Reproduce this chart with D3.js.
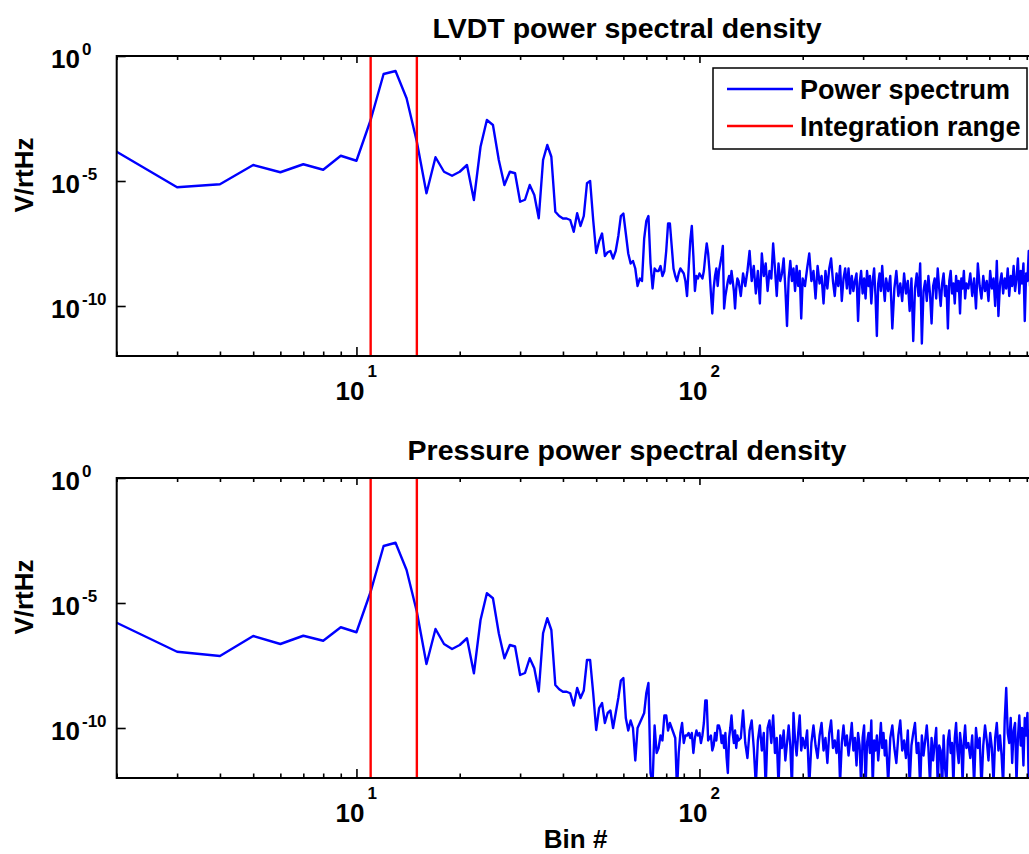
<!DOCTYPE html>
<html>
<head>
<meta charset="utf-8">
<script src="https://cdn.jsdelivr.net/npm/d3@7"></script>
<style>
  body { margin: 0; background: #fff; }
  text { font-family: "Liberation Sans", Arial, sans-serif; font-weight: bold; fill: #000; }
</style>
</head>
<body>
<div id="chart"></div>
<script>
// Power spectral densities (values are log10 of V/rtHz)

// Bin numbers: every bin up to 130, then sampled
var bins = [2,3,4,5,6,7,8,9,10,
  11,12,13,14,15,16,17,18,19,20,21,22,23,24,25,26,27,28,29,30,
  31,32,33,34,35,36,37,38,39,40,41,42,43,44,45,46,47,48,49,50,
  51,52,53,54,55,56,57,58,59,60,61,62,63,64,65,66,67,68,69,70,
  71,72,73,74,75,76,77,78,79,80,81,82,83,84,85,86,87,88,89,90,
  91,92,93,94,95,96,97,98,99,100,101,102,103,104,105,106,107,108,109,110,
  111,112,113,114,115,116,117,118,119,120,121,122,123,124,125,126,127,128,129,130,
  132,134,136,138,140,142,144,146,148,150,152,154,156,158,160,162,164,166,168,170,
  172,174,176,178,180,182,184,186,188,190,192,194,196,198,200,
  203,206,209,212,215,218,221,224,227,230,233,236,239,242,245,248,251,254,257,260,
  263,266,269,272,275,278,281,284,287,290,293,296,299,302,305,308,311,314,317,320,
  323,326,329,332,335,338,341,344,347,350,
  355,360,365,370,375,380,385,390,395,400,405,410,415,420,425,430,435,440,445,450,
  455,460,465,470,475,480,485,490,495,500,505,510,515,520,525,530,535,540,545,550,
  555,560,565,570,575,580,585,590,595,600,
  608,616,624,632,640,648,656,664,672,680,688,696,704,712,720,728,736,744,752,760,
  768,776,784,792,800,808,816,824,832,840,848,856,864,872,880,888,896,904,912,920,
  928,936];

// LVDT spectrum, log10 values
var lvdtExp = [-3.83,-5.25,-5.13,-4.36,-4.65,-4.33,-4.55,-3.99,-4.19,
  -2.56,-0.72,-0.60,-1.69,-3.43,-5.49,-4.05,-4.63,-4.79,-4.63,
  -4.36,-5.76,-3.63,-2.56,-2.76,-4.16,-5.16,-4.63,-4.69,-5.83,
  -5.75,-5.16,-5.56,-6.49,-4.16,-3.56,-4.03,-6.23,-6.4,-6.5,
  -6.5,-6.56,-7.03,-6.29,-6.8,-6.4,-5.09,-5.0,-6.56,-7.88,
  -7.4,-7.1,-8.0,-7.85,-7.8,-8.1,-7.8,-7.2,-6.4,-6.3,
  -7.1,-7.9,-8.3,-8.2,-8.5,-9.2,-8.9,-9.0,-7.3,-6.6,
  -6.4,-8.3,-9.3,-8.5,-8.6,-8.6,-8.4,-8.8,-8.6,-7.8,
  -6.7,-6.7,-7.6,-8.5,-8.8,-9.0,-8.7,-8.5,-8.6,-8.7,
  -9.0,-9.6,-8.5,-7.4,-6.8,-8.0,-9.4,-8.8,-8.9,-8.7,
  -8.8,-8.9,-8.6,-8.0,-7.5,-7.9,-8.6,-9.5,-10.3,-9.3,
  -8.8,-8.5,-9.2,-8.6,-8.3,-8.0,-7.6,-10.1,-9.6,-9.3,
  -9.0,-8.8,-9.1,-8.6,-9.0,-9.4,-10.1,-9.3,-8.9,-9.0,
  -9.6,-8.7,-9.2,-8.6,-7.8,-9.0,-8.4,-9.5,-8.6,-9.9,
  -7.9,-8.8,-8.3,-9.4,-8.6,-8.9,-7.5,-8.5,-9.6,-8.3,
  -9.0,-8.7,-8.1,-9.3,-10.8,-8.9,-8.2,-9.0,-8.5,-9.4,
  -8.4,-9.2,-8.6,-10.5,-8.9,
  -9.2,-8.5,-7.9,-9.0,-8.6,-9.7,-8.4,-9.1,-8.8,-9.9,
  -8.6,-9.3,-8.5,-8.1,-9.0,-9.6,-8.7,-9.2,-8.4,-9.8,
  -8.9,-8.5,-9.3,-8.5,-9.5,-8.8,-9.4,-9.0,-8.7,-10.6,
  -9.1,-8.6,-9.5,-8.9,-9.7,-8.6,-9.2,-8.8,-9.9,-9.0,
  -8.5,-9.6,-11.2,-9.1,-8.7,-9.4,-8.4,-9.2,-9.8,-8.9,
  -9.4,-8.8,-10.9,-9.3,-8.6,-9.6,-9.1,-9.8,-8.7,-9.5,
  -9.0,-10.2,-8.9,-11.4,-9.3,-8.7,-9.6,-8.3,-11.5,-9.4,
  -9.0,-9.8,-8.8,-9.5,-10.7,-9.2,-8.9,-9.7,-8.5,-9.3,
  -10.0,-9.1,-8.7,-9.6,-9.2,-10.9,-9.0,-8.6,-9.5,-9.1,
  -9.9,-8.8,-9.4,-9.0,-10.3,-8.9,-9.3,-8.6,-9.7,-9.1,
  -9.3,-8.7,-9.6,-8.9,-10.1,-8.3,-9.2,-9.7,-8.8,-9.4,
  -9.0,-9.8,-8.6,-9.3,-8.9,-10.0,-8.2,-10.4,-9.1,-8.7,
  -9.5,-8.9,-9.3,-8.5,-9.6,-8.8,-9.2,-8.4,-9.4,-8.9,
  -8.1,-9.5,-8.6,-9.1,-8.3,-10.6,-8.7,-9.0,-7.8,-9.2,
  -8.4,-8.9];

// Pressure spectrum, log10 values
var pressureExp = [-5.79,-6.95,-7.12,-6.32,-6.64,-6.31,-6.51,-5.97,-6.17,
  -4.55,-2.72,-2.59,-3.68,-5.35,-7.44,-6.04,-6.64,-6.84,-6.68,
  -6.41,-7.81,-5.68,-4.61,-4.81,-6.21,-7.21,-6.68,-6.74,-7.88,
  -7.8,-7.21,-7.61,-8.54,-6.21,-5.61,-6.08,-8.28,-8.45,-8.55,
  -8.55,-8.61,-9.1,-8.4,-8.8,-8.5,-7.28,-7.28,-8.6,-10.08,
  -9.2,-9.0,-9.8,-9.4,-9.3,-10.0,-9.4,-8.8,-8.1,-8.0,
  -9.6,-10.1,-9.7,-10.0,-11.3,-10.0,-9.8,-9.6,-9.4,-8.6,
  -8.2,-11.8,-12.2,-9.9,-11.0,-10.8,-10.3,-10.5,-9.5,-9.5,
  -10.1,-9.8,-10.0,-10.2,-10.4,-12.5,-11.0,-10.2,-9.8,-10.6,
  -10.3,-10.3,-10.2,-10.4,-10.2,-11.0,-10.4,-10.1,-10.3,-10.2,
  -10.6,-10.3,-9.8,-8.9,-8.9,-10.5,-10.4,-10.3,-10.9,-10.7,
  -10.2,-10.5,-9.9,-9.9,-10.1,-10.6,-10.3,-10.8,-10.2,-11.2,
  -11.8,-10.4,-10.0,-9.5,-10.2,-10.6,-10.1,-10.8,-10.3,-10.5,
  -10.4,-9.3,-10.6,-11.2,-10.1,-9.7,-10.8,-12.3,-10.5,-9.9,
  -10.9,-10.2,-12.4,-10.0,-9.7,-10.6,-9.5,-11.0,-10.4,-12.3,
  -10.3,-10.8,-10.1,-11.3,-10.6,-9.9,-10.7,-12.4,-9.4,-10.5,
  -11.1,-10.2,-9.5,-10.9,-10.4,
  -10.8,-10.1,-12.3,-10.6,-9.9,-10.7,-11.2,-10.3,-9.8,-10.9,
  -10.4,-11.4,-10.2,-9.7,-10.8,-10.5,-11.0,-10.1,-12.2,-10.6,
  -9.9,-10.7,-10.3,-11.1,-10.5,-9.8,-10.9,-10.4,-11.5,-10.2,
  -10.7,-12.3,-10.4,-9.9,-12.4,-10.6,-10.2,-11.0,-9.7,-12.3,
  -10.5,-10.9,-10.3,-11.3,-10.6,-9.8,-10.8,-10.2,-11.1,-10.5,
  -12.2,-10.4,-9.9,-10.8,-11.4,-10.3,-9.7,-10.9,-10.5,-11.2,
  -10.1,-12.3,-10.7,-10.2,-9.8,-11.0,-10.6,-12.4,-10.3,-11.1,
  -10.5,-9.9,-10.8,-12.2,-10.4,-11.3,-10.6,-10.0,-12.3,-10.7,
  -10.9,-12.4,-10.3,-11.6,-12.2,-10.5,-10.1,-11.0,-10.6,-12.3,
  -10.4,-9.8,-10.9,-11.4,-10.2,-10.7,-12.2,-10.5,-9.9,-10.8,
  -10.6,-11.2,-10.3,-12.3,-10.0,-10.8,-10.4,-12.4,-10.7,-9.9,
  -10.5,-11.3,-10.2,-10.8,-12.2,-10.4,-9.8,-10.9,-10.3,-11.1,
  -12.3,-9.7,-8.4,-10.2,-10.6,-9.6,-11.4,-10.1,-9.8,-12.2,
  -10.4,-9.5,-10.7,-10.0,-11.5,-9.6,-10.3,-9.4,-12.3,-10.1,
  -9.7,-10.5];

var integrationRange = [11, 15];
var titles = ["LVDT power spectral density", "Pressure power spectral density"];
var legendLabels = ["Power spectrum", "Integration range"];
var yTickExps = [0, -5, -10];
var xMajorTicks = [10, 100, 1000];
var xMinorTicks = [2,3,4,5,6,7,8,9,20,30,40,50,60,70,80,90,200,300,400,500,600,700,800,900];

if (bins.length !== lvdtExp.length || bins.length !== pressureExp.length) {
  console.error("length mismatch", bins.length, lvdtExp.length, pressureExp.length);
}

var svgWidth = 1029, svgHeight = 854;
var svg = d3.select("#chart").append("svg")
  .attr("width", svgWidth)
  .attr("height", svgHeight);
svg.append("rect").attr("width", svgWidth).attr("height", svgHeight).attr("fill", "#fff");

// x axis runs off the right edge of the picture (as in the original crop)
var xScale = d3.scaleLog().domain([2, 1024]).range([116.7, 1046]);
var x0 = xScale.range()[0], x1 = xScale.range()[1];

var panels = [
  { title: titles[0], values: lvdtExp, top: 56, bottom: 356, titleY: 38, ylabelY: 175, legend: true, xlabel: false },
  { title: titles[1], values: pressureExp, top: 478, bottom: 778, titleY: 460, ylabelY: 597, legend: false, xlabel: true }
];

panels.forEach(function(p, i) {
  var yScale = d3.scaleLog().domain([1e-12, 1]).range([p.bottom, p.top]);
  var g = svg.append("g");

  svg.append("clipPath").attr("id", "clip" + i)
    .append("rect")
    .attr("x", x0).attr("y", p.top)
    .attr("width", x1 - x0).attr("height", p.bottom - p.top);

  var pts = bins.map(function(b, k) { return { bin: b, v: Math.pow(10, p.values[k]) }; });
  var line = d3.line().x(d => xScale(d.bin)).y(d => yScale(d.v));

  // Spectrum
  g.append("path")
    .datum(pts)
    .attr("clip-path", "url(#clip" + i + ")")
    .attr("d", line)
    .attr("fill", "none")
    .attr("stroke", "#0000ff")
    .attr("stroke-width", 2.4)
    .attr("stroke-linejoin", "round");

  // Integration range
  g.selectAll(".range")
    .data(integrationRange)
    .enter()
    .append("line")
    .attr("x1", d => xScale(d)).attr("x2", d => xScale(d))
    .attr("y1", p.top).attr("y2", p.bottom)
    .attr("stroke", "#ff0000")
    .attr("stroke-width", 2.4);

  // Ticks (inside, MATLAB style)
  function ticks(axisFn, yPos, vals, size) {
    g.append("g")
      .attr("transform", `translate(0, ${yPos})`)
      .call(axisFn(xScale).tickValues(vals).tickSize(size).tickFormat(""))
      .call(s => s.select(".domain").remove())
      .selectAll("line").attr("stroke-width", 1.6);
  }
  ticks(d3.axisBottom, p.bottom, xMinorTicks, -4.5);
  ticks(d3.axisBottom, p.bottom, xMajorTicks, -9);
  ticks(d3.axisTop, p.top, xMinorTicks, -4);
  ticks(d3.axisTop, p.top, xMajorTicks, -7);

  g.append("g")
    .attr("transform", `translate(${x0}, 0)`)
    .call(d3.axisLeft(yScale).tickValues(yTickExps.map(e => Math.pow(10, e))).tickSize(-9).tickFormat(""))
    .call(s => s.select(".domain").remove())
    .selectAll("line").attr("stroke-width", 1.6);

  // Box
  g.append("rect")
    .attr("x", x0).attr("y", p.top)
    .attr("width", x1 - x0).attr("height", p.bottom - p.top)
    .attr("fill", "none")
    .attr("stroke", "#000")
    .attr("stroke-width", 2);

  // Y tick labels 10^e
  yTickExps.forEach(function(e) {
    var yy = yScale(Math.pow(10, e));
    g.append("text").attr("x", 80).attr("y", yy + 12)
      .attr("text-anchor", "end").style("font-size", "26px").text("10");
    g.append("text").attr("x", 82).attr("y", yy - 1)
      .attr("text-anchor", "start").style("font-size", "17px").text(e);
  });

  // X tick labels 10^k
  xMajorTicks.forEach(function(v) {
    var xx = xScale(v);
    if (xx > svgWidth) return;
    g.append("text").attr("x", xx + 8).attr("y", p.bottom + 44)
      .attr("text-anchor", "end").style("font-size", "26px").text("10");
    g.append("text").attr("x", xx + 11).attr("y", p.bottom + 21)
      .attr("text-anchor", "start").style("font-size", "17px").text(Math.round(Math.log10(v)));
  });

  // Title
  g.append("text")
    .attr("x", 627).attr("y", p.titleY)
    .attr("text-anchor", "middle")
    .style("font-size", "28.5px")
    .text(p.title);

  // Y label
  g.append("text")
    .attr("transform", `translate(33, ${p.ylabelY}) rotate(-90)`)
    .attr("text-anchor", "middle")
    .style("font-size", "26px")
    .text("V/rtHz");

  if (p.xlabel) {
    g.append("text")
      .attr("x", 575.6).attr("y", 848)
      .attr("text-anchor", "middle")
      .style("font-size", "26px")
      .text("Bin #");
  }

  if (p.legend) {
    var lg = g.append("g");
    lg.append("rect")
      .attr("x", 713).attr("y", 68)
      .attr("width", 314).attr("height", 81)
      .attr("fill", "#fff")
      .attr("stroke", "#000")
      .attr("stroke-width", 1.5);
    var colors = ["#0000ff", "#ff0000"];
    legendLabels.forEach(function(label, k) {
      var ly = 89 + k * 37;
      lg.append("line")
        .attr("x1", 727).attr("x2", 793)
        .attr("y1", ly).attr("y2", ly)
        .attr("stroke", colors[k])
        .attr("stroke-width", 2.4);
      lg.append("text")
        .attr("x", 800).attr("y", ly + 10)
        .style("font-size", "27px")
        .text(label);
    });
  }
});
</script>
</body>
</html>
